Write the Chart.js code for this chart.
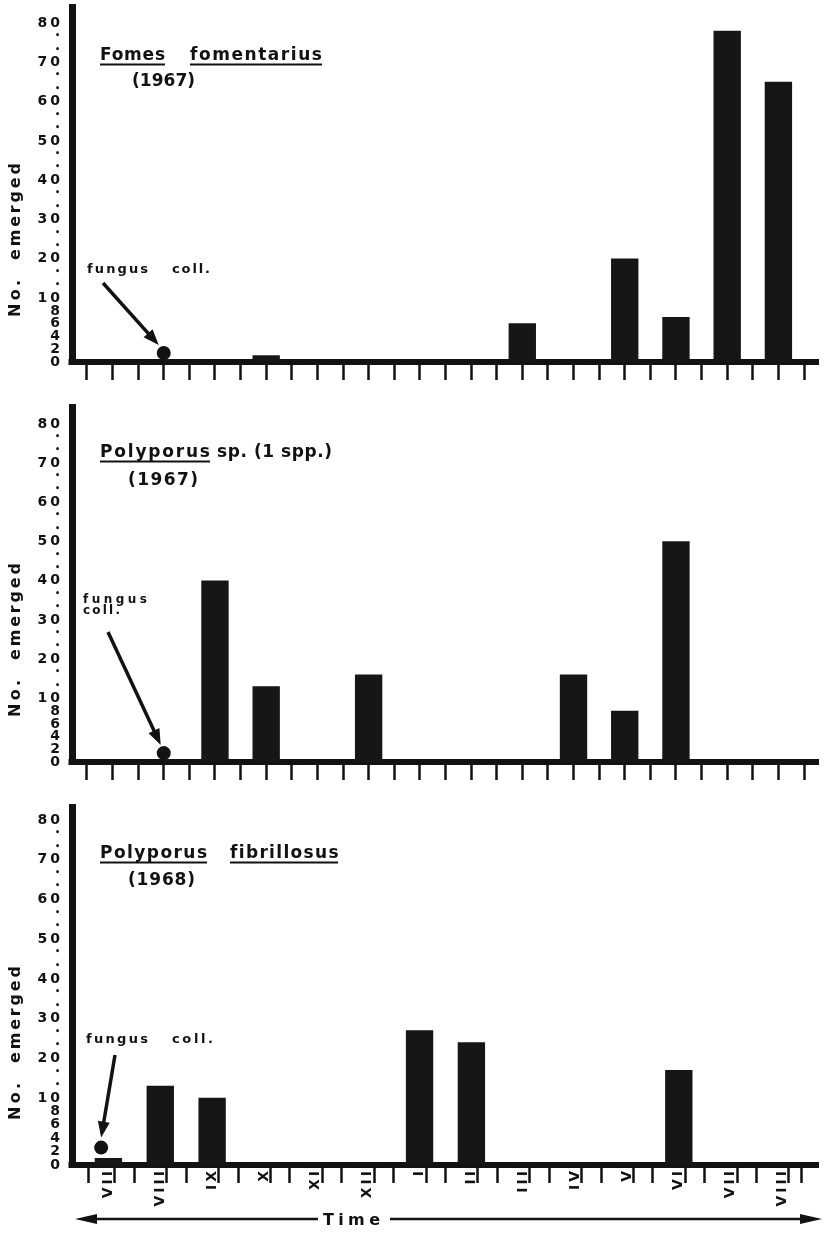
<!DOCTYPE html>
<html><head><meta charset="utf-8">
<script src="https://cdn.jsdelivr.net/npm/chart.js@4.4.1/dist/chart.umd.min.js"></script>
<style>
html,body{margin:0;padding:0;background:#fff;}
#wrap{position:relative;width:825px;height:1236px;background:#fff;overflow:hidden;}
canvas{position:absolute;left:0;}
</style></head><body>
<div id="wrap">
<canvas id="c1" width="825" height="400" style="top:0px"></canvas>
<canvas id="c2" width="825" height="400" style="top:400px"></canvas>
<canvas id="c3" width="825" height="436" style="top:800px"></canvas>
</div>
<script>
// ---------- DATA ----------
const months = ['VII','VIII','IX','X','XI','XII','I','II','III','IV','V','VI','VII','VIII'];
const fomesFomentarius1967 = [0,0,0,1,0,0,0,0,6,0,20,7,78,65];
const polyporusSp1967      = [0,0,40,13,0,16,0,0,0,16,8,50,0,0];
const polyporusFibrillosus1968 = [1,13,10,0,0,0,27,24,0,0,0,17,0,0];
const yTickValues = [0,2,4,6,8,10,20,30,40,50,60,70,80];
const yDotValues  = [13.3,16.7,23.3,26.7,33.3,36.7,43.3,46.7,53.3,56.7,63.3,66.7,73.3,76.7];
const fungusCollectedX = [1, 1, -0.14];   // month position of fungus collection
const fungusCollectedY = [1.4, 1.4, 2.6];

// ---------- custom broken linear scale (0-10 expanded) ----------
class BrokenLinearScale extends Chart.LinearScale {
  static id = 'brokenLinear';
  static defaults = Chart.LinearScale.defaults;
  _dec(v) {
    const b = this.options.breakValue, f = this.options.lowFraction;
    if (v <= b) return (v - this.min) / (b - this.min) * f;
    return f + (v - b) / (this.max - b) * (1 - f);
  }
  getPixelForValue(value) {
    if (value === null || value === undefined || isNaN(value)) return NaN;
    return this.getPixelForDecimal(this._dec(value));
  }
  getValueForPixel(pixel) {
    const d = this.getDecimalForPixel(pixel);
    const b = this.options.breakValue, f = this.options.lowFraction;
    return d <= f ? this.min + d / f * (b - this.min) : b + (d - f) / (1 - f) * (this.max - b);
  }
}
Chart.register(BrokenLinearScale);

const FONT = '"DejaVu Sans", Lato, sans-serif';
const INK = '#121212';
const xMin = -0.531, xMax = 13.513;
const plotLeft = 72, plotRight = 822;
const monthPx = (plotRight - plotLeft) / (xMax - xMin);

const panels = [
  { id:'c1', values: fomesFomentarius1967, showLabels:false, padTop:7, xAxisHeight:38, yMax:84.1, lowFrac:0.18,
    title:[{t:'Fomes',x:100,w:65,u:true},{t:'fomentarius',x:190,w:132,u:true}], titleY:60,
    sub:{t:'(1967)',x:132,w:63,y:86},
    fungus:[{t:'fungus',x:87,y:273,w:61},{t:'coll.',x:172,y:273,w:38}], fungusSize:13,
    arrowFrom:[103,283], tipOffset:[-5,-8],
    yTitle:[{t:'No.',y:317,w:37},{t:'emerged',y:260,w:97}] },
  { id:'c2', values: polyporusSp1967, showLabels:false, padTop:5, xAxisHeight:38, yMax:84.3, lowFrac:0.179,
    title:[{t:'Polyporus',x:100,w:110,u:true},{t:'sp. (1 spp.)',x:217,w:115,u:false}], titleY:57,
    sub:{t:'(1967)',x:128,w:70,y:85},
    fungus:[{t:'fungus',x:83,y:203,w:64},{t:'coll.',x:83,y:214,w:37}], fungusSize:12,
    arrowFrom:[108,232], tipOffset:[-3,-8],
    yTitle:[{t:'No.',y:317,w:37},{t:'emerged',y:260,w:97}] },
  { id:'c3', values: polyporusFibrillosus1968, showLabels:true, padTop:7, xAxisHeight:71, yMax:83.3, lowFrac:0.187,
    title:[{t:'Polyporus',x:100,w:107,u:true},{t:'fibrillosus',x:230,w:108,u:true}], titleY:58,
    sub:{t:'(1968)',x:128,w:67,y:85},
    fungus:[{t:'fungus',x:86,y:243,w:62},{t:'coll.',x:172,y:243,w:41}], fungusSize:13,
    arrowFrom:[115,255], tipOffset:[0,-10],
    yTitle:[{t:'No.',y:320,w:37},{t:'emerged',y:263,w:97}],
    time:{y:419, left:75, leftEnd:318, text:'Time', tx:323, tw:57, ty:425, rightStart:390, right:822} }
];

function spaced(ctx, text, x, y, w) {
  ctx.letterSpacing = '0px';
  const w0 = ctx.measureText(text).width;
  const n = text.length;
  const s = n > 1 ? (w - w0) / (n - 1) : 0;
  ctx.letterSpacing = s.toFixed(2) + 'px';
  ctx.fillText(text, x, y);
  ctx.letterSpacing = '0px';
}
function arrowHead(ctx, x1, y1, x2, y2, len, half) {
  const a = Math.atan2(y2 - y1, x2 - x1);
  ctx.beginPath();
  ctx.moveTo(x2, y2);
  ctx.lineTo(x2 - len*Math.cos(a) + half*Math.sin(a), y2 - len*Math.sin(a) - half*Math.cos(a));
  ctx.lineTo(x2 - len*Math.cos(a) - half*Math.sin(a), y2 - len*Math.sin(a) + half*Math.cos(a));
  ctx.closePath();
  ctx.fill();
}

function makePlugin(p, idx) {
  return {
    id: 'annot' + idx,
    beforeDraw(chart) { chart.ctx.letterSpacing = '3px'; },
    afterDraw(chart) {
      const ctx = chart.ctx;
      ctx.save();
      ctx.letterSpacing = '0px';
      ctx.fillStyle = INK; ctx.strokeStyle = INK;
      const ca = chart.chartArea;
      ctx.fillRect(ca.left - 3.5, ca.bottom - 3, 7, 6);
      ctx.textBaseline = 'alphabetic'; ctx.textAlign = 'left';
      ctx.font = 'bold 17px ' + FONT;
      p.title.forEach(o => {
        spaced(ctx, o.t, o.x, p.titleY, o.w);
        if (o.u) ctx.fillRect(o.x, p.titleY + 3.5, o.w, 2);
      });
      spaced(ctx, p.sub.t, p.sub.x, p.sub.y, p.sub.w);
      ctx.font = 'bold ' + p.fungusSize + 'px ' + FONT;
      p.fungus.forEach(o => spaced(ctx, o.t, o.x, o.y, o.w));
      const pt = chart.getDatasetMeta(0).data[0];
      const tx = pt.x + p.tipOffset[0], ty = pt.y + p.tipOffset[1];
      const [fx, fy] = p.arrowFrom;
      const a = Math.atan2(ty - fy, tx - fx);
      ctx.lineWidth = 3.5;
      ctx.beginPath(); ctx.moveTo(fx, fy); ctx.lineTo(tx - 10*Math.cos(a), ty - 10*Math.sin(a)); ctx.stroke();
      arrowHead(ctx, fx, fy, tx, ty, 16, 6);
      ctx.font = 'bold 16px ' + FONT;
      p.yTitle.forEach(o => {
        ctx.save(); ctx.translate(20, o.y); ctx.rotate(-Math.PI/2);
        spaced(ctx, o.t, 0, 0, o.w);
        ctx.restore();
      });
      if (p.time) {
        const t = p.time;
        ctx.lineWidth = 2.5;
        ctx.beginPath(); ctx.moveTo(t.left + 12, t.y); ctx.lineTo(t.leftEnd, t.y); ctx.stroke();
        ctx.beginPath(); ctx.moveTo(t.rightStart, t.y); ctx.lineTo(t.right - 12, t.y); ctx.stroke();
        arrowHead(ctx, t.left + 20, t.y, t.left, t.y, 22, 5);
        arrowHead(ctx, t.right - 20, t.y, t.right, t.y, 22, 5);
        ctx.font = 'bold 16px ' + FONT;
        spaced(ctx, t.text, t.tx, t.ty, t.tw);
      }
      ctx.restore();
      ctx.letterSpacing = '0px';
    }
  };
}

panels.forEach((p, idx) => {
  const barData = months.map((m, i) => ({x: i, y: p.values[i]}));
  new Chart(document.getElementById(p.id), {
    type: 'bar',
    data: {
      datasets: [
        { type: 'scatter', label: 'fungus coll.', data: [{x: fungusCollectedX[idx], y: fungusCollectedY[idx]}],
          pointRadius: 7, pointBackgroundColor: INK, pointBorderWidth: 0, showLine: false },
        { type: 'bar', label: 'No. emerged', data: barData, backgroundColor: '#161616',
          borderWidth: 0, barThickness: monthPx * 0.5 }
      ]
    },
    options: {
      responsive: false, animation: false, devicePixelRatio: 1, events: [],
      layout: { padding: { top: p.padTop, right: 825 - plotRight, left: 0, bottom: 0 } },
      plugins: { legend: { display: false }, tooltip: { enabled: false } },
      scales: {
        x: {
          type: 'linear', min: xMin, max: xMax,
          afterBuildTicks: s => {
            const t = [];
            months.forEach((m, i) => {
              t.push({value: i - 0.25});
              if (p.showLabels) t.push({value: i});
              t.push({value: i + 0.25});
            });
            s.ticks = t;
          },
          afterFit: s => { s.height = p.xAxisHeight; s.paddingLeft = 0; s.paddingRight = 0; },
          grid: { display: true, drawOnChartArea: false, drawTicks: true, tickLength: 18, tickWidth: 2.5,
                  tickColor: c => (c.tick && Number.isInteger(c.tick.value)) ? 'rgba(0,0,0,0)' : INK },
          border: { display: true, width: 6, color: INK },
          ticks: { display: p.showLabels, autoSkip: false, maxRotation: 90, minRotation: 90, padding: -15,
                   color: INK, font: { family: FONT, size: 14, weight: 'bold' },
                   callback: v => Number.isInteger(v) ? months[v] : '' }
        },
        y: {
          type: 'brokenLinear', min: 0, max: p.yMax, breakValue: 10, lowFraction: p.lowFrac,
          afterBuildTicks: s => {
            s.ticks = [...yTickValues, ...yDotValues].sort((a, b) => a - b).map(v => ({value: v}));
          },
          afterFit: s => { s.width = plotLeft; s.paddingTop = 0; s.paddingBottom = 0; },
          grid: { display: false, drawTicks: false },
          border: { display: true, width: 7, color: INK },
          ticks: { autoSkip: false, padding: 9, color: INK,
                   font: c => (c.tick && yDotValues.includes(c.tick.value))
                         ? { family: FONT, size: 8, weight: 'bold' }
                         : { family: FONT, size: 14, weight: 'bold' },
                   callback: v => yDotValues.includes(v) ? '•' : String(v) }
        }
      }
    },
    plugins: [makePlugin(p, idx)]
  });
});
</script>
</body></html>
